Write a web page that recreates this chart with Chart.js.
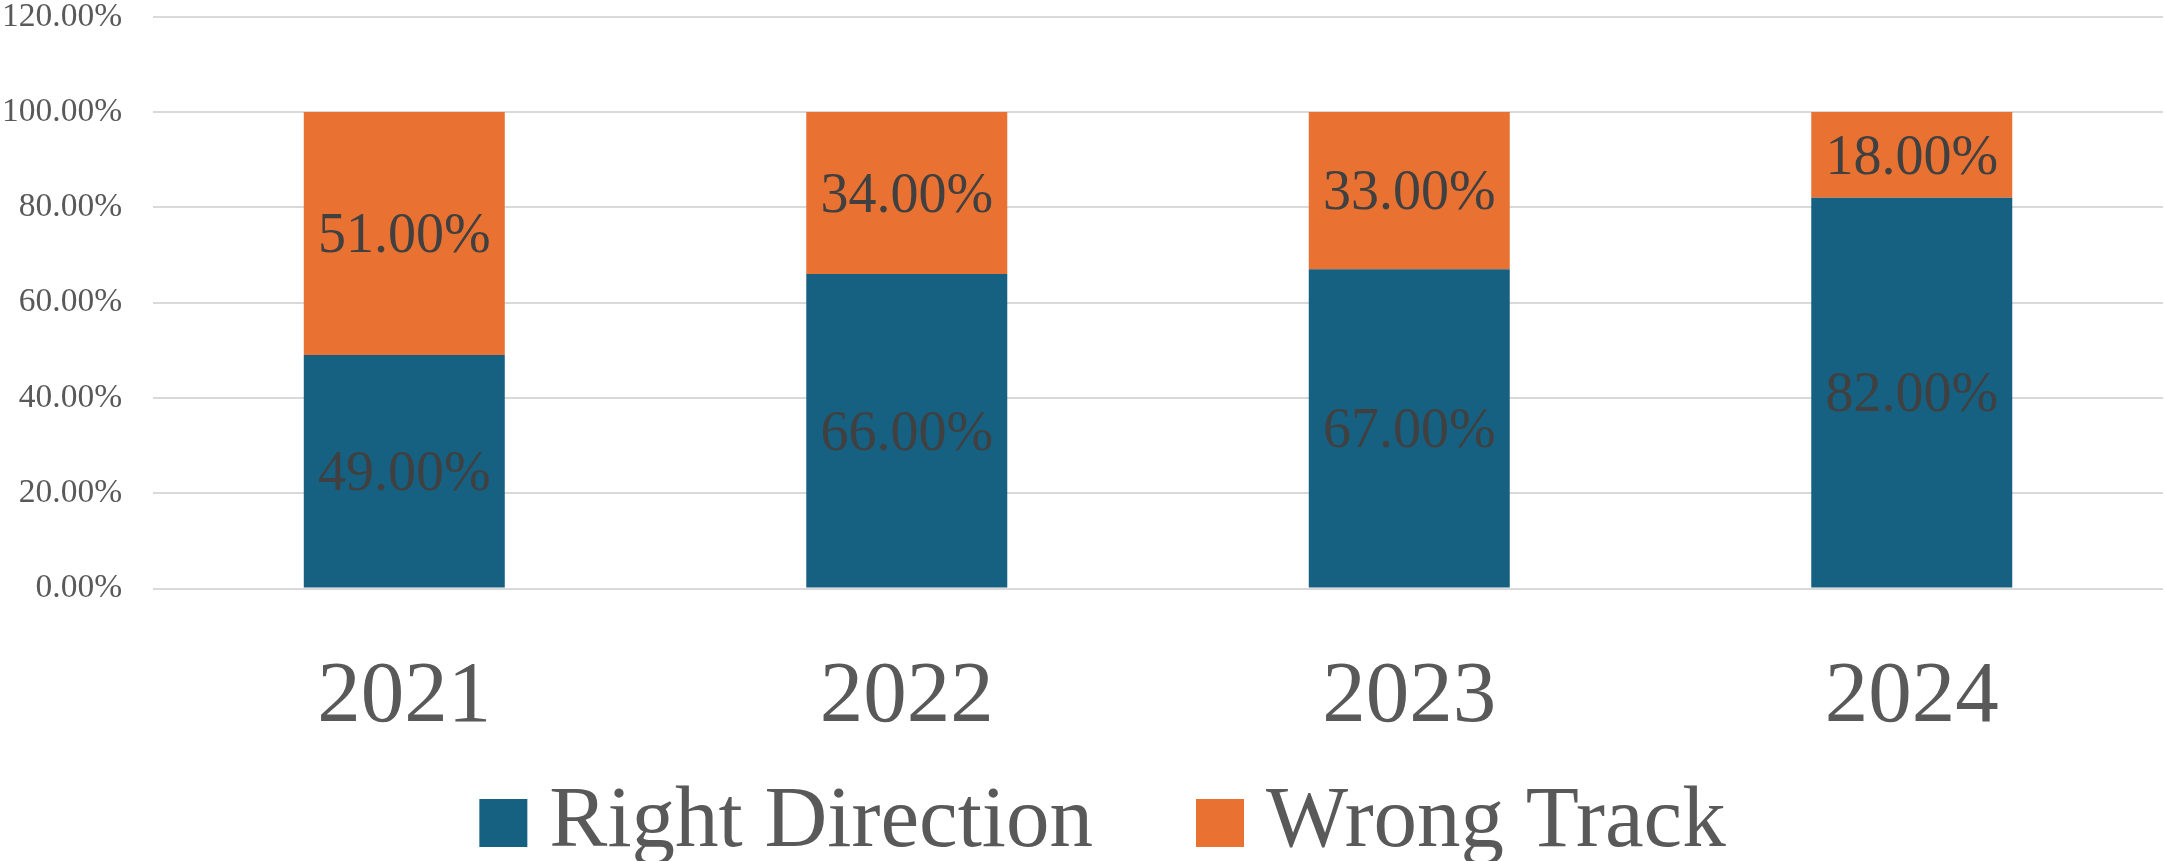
<!DOCTYPE html>
<html>
<head>
<meta charset="utf-8">
<script src="https://cdn.jsdelivr.net/npm/chart.js@4.4.1/dist/chart.umd.min.js"></script>
<style>
  html, body { margin: 0; padding: 0; background: #fff; }
  #wrap { width: 2165px; height: 861px; }
</style>
</head>
<body>
<div id="wrap"><canvas id="chart"></canvas></div>
<script>
// values (percent)
const years = ['2021', '2022', '2023', '2024'];
const rightDirection = [49, 66, 67, 82];
const wrongTrack = [51, 34, 33, 18];
const yTicks = [0, 20, 40, 60, 80, 100, 120];

const serif = "'Liberation Serif', 'Times New Roman', serif";

// draws the value in the middle of each stacked segment
const barLabels = {
  id: 'barLabels',
  afterDatasetsDraw(chart) {
    const ctx = chart.ctx;
    ctx.save();
    ctx.font = '56px ' + serif;
    ctx.fillStyle = '#404040';
    ctx.textAlign = 'center';
    ctx.textBaseline = 'middle';
    chart.data.datasets.forEach((ds, i) => {
      chart.getDatasetMeta(i).data.forEach((bar, j) => {
        const mid = (bar.y + bar.base) / 2;
        ctx.fillText(ds.data[j].toFixed(2) + '%', bar.x, mid + 4);
      });
    });
    ctx.restore();
  }
};

// legend drawn by hand so box/text gaps match the original
const bottomLegend = {
  id: 'bottomLegend',
  afterDraw(chart) {
    const ctx = chart.ctx;
    const box = 48, gap = 22, spacing = 103;
    ctx.save();
    ctx.font = '87px ' + serif;
    ctx.textBaseline = 'alphabetic';
    const items = chart.data.datasets.map(ds => ({
      text: ds.label,
      color: ds.backgroundColor,
      w: ctx.measureText(ds.label).width
    }));
    let total = 0;
    items.forEach((it, i) => {
      total += box + gap + it.w + (i > 0 ? spacing : 0);
    });
    let x = chart.width / 2 + 20 - total / 2;
    const boxTop = chart.height - 62;
    const baseline = chart.height - 15;
    items.forEach(it => {
      ctx.fillStyle = it.color;
      ctx.fillRect(x, boxTop, box, box);
      ctx.fillStyle = '#595959';
      ctx.fillText(it.text, x + box + gap, baseline);
      x += box + gap + it.w + spacing;
    });
    ctx.restore();
  }
};

new Chart(document.getElementById('chart'), {
  type: 'bar',
  data: {
    labels: years,
    datasets: [
      {
        label: 'Right Direction',
        data: rightDirection,
        backgroundColor: '#166082',
        categoryPercentage: 1,
        barPercentage: 0.4
      },
      {
        label: 'Wrong Track',
        data: wrongTrack,
        backgroundColor: '#E97132',
        categoryPercentage: 1,
        barPercentage: 0.4
      }
    ]
  },
  options: {
    responsive: true,
    maintainAspectRatio: false,
    animation: false,
    layout: { padding: { top: 0, right: 2, bottom: 111, left: 2 } },
    plugins: {
      tooltip: { enabled: false },
      legend: { display: false }
    },
    scales: {
      x: {
        stacked: true,
        grid: {
          display: true,
          drawOnChartArea: false,
          drawTicks: true,
          tickLength: 57,
          tickColor: 'rgba(0,0,0,0)'
        },
        border: { display: false },
        ticks: {
          font: { family: serif, size: 87 },
          color: '#595959',
          padding: 0
        }
      },
      y: {
        stacked: true,
        min: 0,
        max: 120,
        afterBuildTicks: axis => {
          axis.ticks = yTicks.map(v => ({ value: v }));
        },
        grid: {
          color: '#d9d9d9',
          lineWidth: 2,
          drawTicks: true,
          tickLength: 31,
          tickColor: 'rgba(0,0,0,0)'
        },
        border: { display: false },
        ticks: {
          font: { family: serif, size: 33.5, lineHeight: 1 },
          color: '#595959',
          padding: 0,
          callback: v => v.toFixed(2) + '%'
        }
      }
    }
  },
  plugins: [barLabels, bottomLegend]
});
</script>
</body>
</html>
